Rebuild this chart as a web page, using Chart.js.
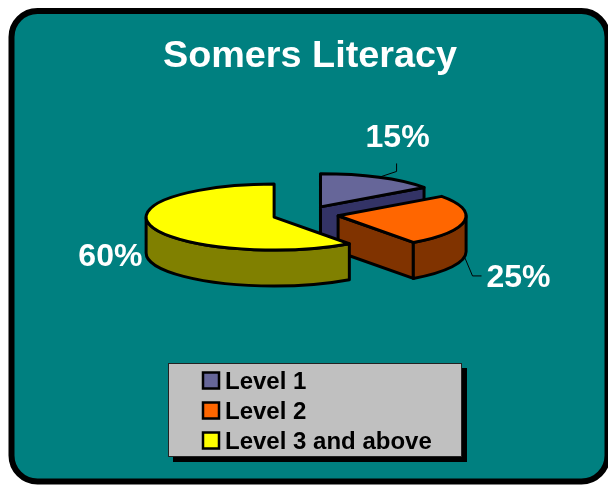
<!DOCTYPE html>
<html>
<head>
<meta charset="utf-8">
<style>
  html, body { margin: 0; padding: 0; background: #fff; }
  canvas { display: block; }
</style>
<script src="https://cdn.jsdelivr.net/npm/chart.js@4"></script>
</head>
<body>
<canvas id="chart" width="608" height="485"></canvas>
<script>
const categories = ['Level 1', 'Level 2', 'Level 3 and above']
const shares = [15, 25, 60]
const colors = ['#666699', '#FF6600', '#FFFF00']
const sideColors = ['#333366', '#803300', '#808000']
const chartTitle = 'Somers Literacy'

const FONT = '"Liberation Sans", Arial, sans-serif'

// squashed 3d look: the arcs come from the pie controller, we only project them
const tilt = 33 / 128
const depth = 36
const shiftX = -4.5

// label placement relative to the outer middle of each slice
const labelPlace = [
  { text: [19, -39], leader: [[0, 0], [18, -6], [18, -14]] },
  { text: [54, 21], leader: [[0, 0], [8, 19], [17, 19]] },
  { text: [-42, -6], leader: null }
]

function pathWall (ctx, x, y, r, a0, a1) {
  ctx.beginPath()
  ctx.ellipse(x, y, r, r * tilt, 0, a0, a1)
  ctx.ellipse(x, y + depth, r, r * tilt, 0, a1, a0, true)
  ctx.closePath()
}

function pathEdge (ctx, x, y, r, a) {
  const ex = x + Math.cos(a) * r
  const ey = y + Math.sin(a) * r * tilt
  ctx.beginPath()
  ctx.moveTo(x, y)
  ctx.lineTo(ex, ey)
  ctx.lineTo(ex, ey + depth)
  ctx.lineTo(x, y + depth)
  ctx.closePath()
}

function paint (ctx, fill) {
  ctx.fillStyle = fill
  ctx.fill()
  ctx.stroke()
}

const framePlugin = {
  id: 'frame',
  beforeDraw (chart) {
    const ctx = chart.ctx
    ctx.save()
    ctx.beginPath()
    ctx.roundRect(11.5, 11, 596, 470.5, 26)
    ctx.fillStyle = '#008080'
    ctx.fill()
    ctx.lineWidth = 6
    ctx.strokeStyle = '#000'
    ctx.stroke()
    ctx.restore()
  }
}

const pie3dPlugin = {
  id: 'pie3d',
  beforeDatasetsDraw (chart) {
    const ctx = chart.ctx
    const arcs = chart.getDatasetMeta(0).data
    ctx.save()
    ctx.lineJoin = 'round'
    ctx.strokeStyle = '#000'
    ctx.lineWidth = 3

    arcs.forEach((arc, i) => {
      const mid = (arc.startAngle + arc.endAngle) / 2
      const r = arc.outerRadius
      const x = arc.x + shiftX + Math.cos(mid) * arc.options.offset
      const y = arc.y + Math.sin(mid) * arc.options.offset * tilt

      // cut faces, only those turned towards the viewer
      if (Math.sin(arc.endAngle + Math.PI / 2) > 0) {
        pathEdge(ctx, x, y, r, arc.endAngle)
        paint(ctx, sideColors[i])
      }
      if (Math.sin(arc.startAngle - Math.PI / 2) > 0) {
        pathEdge(ctx, x, y, r, arc.startAngle)
        paint(ctx, sideColors[i])
      }

      // outer wall, front half of the ellipse only
      const turn = Math.PI * 2
      for (const k of [-1, 0, 1]) {
        const a0 = Math.max(arc.startAngle, k * turn)
        const a1 = Math.min(arc.endAngle, k * turn + Math.PI)
        if (a1 > a0) {
          pathWall(ctx, x, y, r, a0, a1)
          paint(ctx, sideColors[i])
        }
      }

      // top
      ctx.beginPath()
      ctx.moveTo(x, y)
      ctx.ellipse(x, y, r, r * tilt, 0, arc.startAngle, arc.endAngle)
      ctx.closePath()
      paint(ctx, colors[i])
    })

    // labels and leader lines
    ctx.textAlign = 'center'
    ctx.textBaseline = 'middle'
    ctx.font = 'bold 32px ' + FONT
    arcs.forEach((arc, i) => {
      const mid = (arc.startAngle + arc.endAngle) / 2
      const r = arc.outerRadius
      const ax = arc.x + shiftX + Math.cos(mid) * (arc.options.offset + r)
      const ay = arc.y + Math.sin(mid) * (arc.options.offset + r) * tilt + (Math.sin(mid) > 0 ? depth : 0)
      const place = labelPlace[i]
      if (place.leader) {
        ctx.beginPath()
        place.leader.forEach((p, n) => {
          if (n === 0) ctx.moveTo(ax + p[0], ay + p[1])
          else ctx.lineTo(ax + p[0], ay + p[1])
        })
        ctx.lineWidth = 1
        ctx.stroke()
      }
      ctx.fillStyle = '#fff'
      ctx.fillText(shares[i] + '%', ax + place.text[0], ay + place.text[1])
    })
    ctx.restore()
    return false
  },
  afterDraw (chart) {
    // gray legend box with a hard shadow
    const ctx = chart.ctx
    ctx.save()
    ctx.fillStyle = '#000'
    ctx.fillRect(173, 368, 294, 94)
    ctx.fillStyle = '#C0C0C0'
    ctx.fillRect(168.5, 363.5, 293, 93)
    ctx.strokeStyle = '#222'
    ctx.lineWidth = 1
    ctx.strokeRect(168.5, 363.5, 293, 93)

    ctx.font = 'bold 24px ' + FONT
    ctx.textAlign = 'left'
    ctx.textBaseline = 'alphabetic'
    categories.forEach((name, i) => {
      const top = 371.5 + i * 30
      ctx.fillStyle = colors[i]
      ctx.fillRect(203, top + 1, 16, 16)
      ctx.strokeStyle = '#000'
      ctx.lineWidth = 2.5
      ctx.strokeRect(203, top + 1, 16, 16)
      ctx.fillStyle = '#000'
      ctx.fillText(name, 225, top + 17)
    })
    ctx.restore()
  }
}

new Chart(document.getElementById('chart'), {
  type: 'pie',
  data: {
    labels: categories,
    datasets: [{
      data: shares,
      backgroundColor: colors,
      borderColor: '#000',
      offset: 33,
      radius: 128
    }]
  },
  options: {
    responsive: false,
    animation: false,
    radius: 128,
    layout: { padding: { left: 12, right: 0, top: 0, bottom: 135.5 } },
    plugins: {
      legend: { display: false },
      tooltip: { enabled: false },
      title: {
        display: true,
        text: chartTitle,
        color: '#fff',
        font: { family: FONT, size: 37.8, weight: 'bold', lineHeight: 1.2 },
        padding: { top: 34, bottom: 0 }
      }
    }
  },
  plugins: [framePlugin, pie3dPlugin]
})
</script>
</body>
</html>
